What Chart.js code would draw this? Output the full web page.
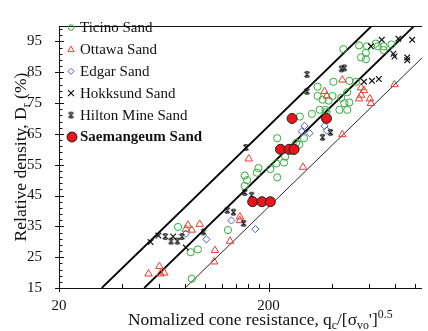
<!DOCTYPE html>
<html>
<head>
<meta charset="utf-8">
<script src="https://cdn.jsdelivr.net/npm/chart.js@4.4.0/dist/chart.umd.min.js"></script>
<style>
  html, body { margin: 0; padding: 0; background: #fff; }
</style>
</head>
<body>
<canvas id="chart" width="428" height="331"></canvas>
<script>
const FONT = '"Liberation Serif", "Times New Roman", serif';

// Ticino Sand
const ticinoQ  = [455, 541, 590, 650, 664, 708, 772, 708, 583, 553, 583,
                  343, 408, 486, 524, 475, 343, 362, 387, 404, 445, 460, 486, 436, 475, 351, 374, 379, 322, 282,
                  220, 295, 271, 280, 262, 240, 237, 218, 204, 179, 176, 154, 158, 154, 220, 128,
                  74, 85, 92, 86];
const ticinoDr = [92.5, 93.7, 93.4, 94.3, 93.4, 93.4, 94.0, 92.2, 91.3, 89.8, 89.2,
                  80.3, 81.9, 82.2, 81.9, 78.5, 77.3, 76.1, 75.8, 77.3, 76.7, 74.9, 75.2, 72.8, 72.8, 72.8, 72.8, 72.1, 71.5, 70.6,
                  63.6, 63.6, 62.1, 61.5, 59.4, 57.6, 55.7, 55.4, 53.6, 53.9, 52.4, 51.5, 50.0, 48.1, 50.9, 33.8,
                  34.8, 26.6, 27.5, 18.0];

// Ottawa Sand
const ottawaQ  = [450, 370, 379, 553, 571, 541, 553, 609, 616, 798, 450, 161, 292,
                  82.4, 80.6, 86, 93.8, 146, 146, 131, 111, 110, 53.5, 60.3, 61, 63.6];
const ottawaDr = [82.5, 78.8, 77.3, 80.0, 79.1, 76.4, 77.6, 76.4, 74.9, 81.0, 64.8, 56.9, 54.2,
                  35.4, 34.1, 33.8, 35.7, 38.1, 36.9, 30.2, 27.2, 23.5, 19.6, 22.0, 19.6, 19.9];

// Edgar Sand
const edgarQ  = [297, 288, 314, 370, 379, 80.6, 101, 133, 173];
const edgarDr = [67.6, 65.8, 65.2, 67.6, 66.1, 32.6, 30.8, 36.9, 34.1];

// Hokksund Sand
const hokksundQ  = [694, 833, 970, 616, 789, 798, 918, 918, 571, 623, 672, 54.7, 59.6, 80.6, 70.1];
const hokksundDr = [95.5, 95.9, 95.5, 93.4, 91.0, 90.1, 89.8, 88.9, 81.9, 82.2, 82.8, 29.9, 32.0, 28.1, 31.7];

// Hilton Mine Sand
const hiltonQ  = [445, 460, 305, 305, 156, 362, 395, 154, 166, 127, 136, 152, 98, 77.2, 64.3, 68.5, 73.4];
const hiltonDr = [86.1, 86.4, 84.3, 78.8, 60.6, 63.9, 65.5, 46.0, 45.1, 40.2, 39.6, 36.0, 33.2, 31.7, 31.7, 30.2, 30.2];

// Saemangeum Sand
const saemQ  = [259, 378, 228, 251, 265, 168, 186, 204];
const saemDr = [70, 70, 60, 60, 60, 43, 43, 43];

// boundary lines (end points)
const lineDr     = [15, 100];
const lineUpperQ = [32, 621];
const lineMidQ   = [51, 990];
const lineLowerQ = [80, 1550];

// ticks
const xLabelTicks = [20, 200];
const xMinorTicks = [40, 60, 80, 100, 120, 140, 160, 180, 400, 600, 800, 1000];
const yLabelTicks = [15, 25, 35, 45, 55, 65, 75, 85, 95];
const yMinorTicks = [17, 19, 21, 23, 27, 29, 31, 33, 37, 39, 41, 43, 47, 49, 51, 53, 57, 59, 61, 63,
                     67, 69, 71, 73, 77, 79, 81, 83, 87, 89, 91, 93, 97, 99];

const zip = (xs, ys) => xs.map((x, i) => ({ x: x, y: ys[i] }));

// x mark with short bars top and bottom
function hiltonMark(r) {
    const s = Math.ceil(r * 2 + 3);
    const c = document.createElement('canvas');
    c.width = s;
    c.height = s;
    const g = c.getContext('2d');
    const m = s / 2;
    g.strokeStyle = '#111';
    g.lineWidth = 1.1;
    g.beginPath();
    g.moveTo(m - r, m - r); g.lineTo(m + r, m + r);
    g.moveTo(m + r, m - r); g.lineTo(m - r, m + r);
    g.moveTo(m - r * 0.6, m - r); g.lineTo(m + r * 0.6, m - r);
    g.moveTo(m - r * 0.6, m + r); g.lineTo(m + r * 0.6, m + r);
    g.stroke();
    return c;
}
const hiltonImg = hiltonMark(2.6);

const GREEN = '#2fae3a';
const RED = '#f03a2e';
const BLUE = '#4a5fc8';

const legendItems = [
    { text: 'Ticino Sand', style: 'circle', color: GREEN },
    { text: 'Ottawa Sand', style: 'triangle', color: RED },
    { text: 'Edgar Sand', style: 'diamond', color: BLUE },
    { text: 'Hokksund Sand', style: 'cross', color: '#111' },
    { text: 'Hilton Mine Sand', style: 'hilton', color: '#111' },
    { text: 'Saemangeum Sand', style: 'filled', color: '#e8151b', bold: true }
];

function drawMarker(ctx, style, color, x, y) {
    ctx.save();
    ctx.strokeStyle = color;
    ctx.lineWidth = 1;
    ctx.beginPath();
    if (style === 'circle') {
        ctx.arc(x, y, 2.8, 0, Math.PI * 2);
        ctx.stroke();
    } else if (style === 'triangle') {
        ctx.moveTo(x, y - 3.3);
        ctx.lineTo(x + 3.2, y + 2.3);
        ctx.lineTo(x - 3.2, y + 2.3);
        ctx.closePath();
        ctx.stroke();
    } else if (style === 'diamond') {
        ctx.moveTo(x, y - 3);
        ctx.lineTo(x + 3, y);
        ctx.lineTo(x, y + 3);
        ctx.lineTo(x - 3, y);
        ctx.closePath();
        ctx.stroke();
    } else if (style === 'cross') {
        ctx.lineWidth = 1.2;
        ctx.moveTo(x - 3, y - 3); ctx.lineTo(x + 3, y + 3);
        ctx.moveTo(x + 3, y - 3); ctx.lineTo(x - 3, y + 3);
        ctx.stroke();
    } else if (style === 'hilton') {
        ctx.drawImage(hiltonImg, x - hiltonImg.width / 2, y - hiltonImg.height / 2);
    } else if (style === 'filled') {
        ctx.arc(x, y, 5, 0, Math.PI * 2);
        ctx.fillStyle = color;
        ctx.fill();
        ctx.strokeStyle = '#222';
        ctx.stroke();
    }
    ctx.restore();
}

function drawRich(ctx, parts, x, y, size) {
    let cx = x;
    for (const [t, mode] of parts) {
        const fs = mode ? size * 0.68 : size;
        ctx.font = fs + 'px ' + FONT;
        const dy = mode === 'sub' ? size * 0.25 : mode === 'sup' ? -size * 0.4 : 0;
        ctx.fillText(t, cx, y + dy);
        cx += ctx.measureText(t).width;
    }
    return cx - x;
}

function richWidth(ctx, parts, size) {
    let w = 0;
    for (const [t, mode] of parts) {
        ctx.font = (mode ? size * 0.68 : size) + 'px ' + FONT;
        w += ctx.measureText(t).width;
    }
    return w;
}

const framePlugin = {
    id: 'frame',
    afterDraw(chart) {
        const ctx = chart.ctx;
        const a = chart.chartArea;
        const xs = chart.scales.x;
        const ys = chart.scales.y;
        ctx.save();
        ctx.strokeStyle = '#111';
        ctx.lineWidth = 1;
        ctx.beginPath();
        // frame: left, bottom, top
        ctx.moveTo(a.left + 0.5, a.top);
        ctx.lineTo(a.left + 0.5, a.bottom + 0.5);
        ctx.lineTo(a.right, a.bottom + 0.5);
        ctx.moveTo(a.left, a.top + 0.5);
        ctx.lineTo(a.right, a.top + 0.5);
        // y ticks
        yLabelTicks.forEach(v => {
            const p = Math.round(ys.getPixelForValue(v)) + 0.5;
            ctx.moveTo(a.left - 4, p); ctx.lineTo(a.left + 5, p);
        });
        yMinorTicks.forEach(v => {
            const p = Math.round(ys.getPixelForValue(v)) + 0.5;
            ctx.moveTo(a.left, p); ctx.lineTo(a.left + 3.5, p);
        });
        // x ticks
        xLabelTicks.forEach(v => {
            const p = Math.round(xs.getPixelForValue(v)) + 0.5;
            ctx.moveTo(p, a.bottom + 4); ctx.lineTo(p, a.bottom - 5);
        });
        xMinorTicks.forEach(v => {
            const p = Math.round(xs.getPixelForValue(v)) + 0.5;
            ctx.moveTo(p, a.bottom); ctx.lineTo(p, a.bottom - 4);
        });
        ctx.stroke();

        // legend
        ctx.textBaseline = 'middle';
        ctx.textAlign = 'left';
        legendItems.forEach((it, i) => {
            const y = 27.5 + i * 21.9;
            drawMarker(ctx, it.style, it.color, it.bold ? 72 : 71, y);
            ctx.fillStyle = '#111';
            ctx.font = (it.bold ? 'bold ' : '') + '15px ' + FONT;
            ctx.fillText(it.text, 80, y + 0.5);
        });

        // axis titles
        ctx.fillStyle = '#111';
        ctx.textBaseline = 'alphabetic';
        const xTitle = [['Nomalized cone resistance, q', ''], ['c', 'sub'], ['/[\u03c3', ''], ['vo', 'sub'], ["']", ''], ['0.5', 'sup']];
        drawRich(ctx, xTitle, 128, 325, 17.4);

        const yTitle = [['Relative density, D', ''], ['r', 'sub'], [' (%)', '']];
        const w = richWidth(ctx, yTitle, 17.6);
        ctx.translate(26, 157);
        ctx.rotate(-Math.PI / 2);
        drawRich(ctx, yTitle, -w / 2, 0, 17.6);
        ctx.restore();
    }
};

const pointBase = { showLine: false, pointBorderWidth: 1, pointHoverRadius: 0 };

new Chart(document.getElementById('chart'), {
    type: 'scatter',
    data: {
        datasets: [
            Object.assign({}, pointBase, {
                label: 'Saemangeum Sand', data: zip(saemQ, saemDr),
                pointStyle: 'circle', pointRadius: 5, backgroundColor: '#e8151b', borderColor: '#222'
            }),
            Object.assign({}, pointBase, {
                label: 'Hilton Mine Sand', data: zip(hiltonQ, hiltonDr),
                pointStyle: hiltonImg, pointRadius: 3
            }),
            Object.assign({}, pointBase, {
                label: 'Hokksund Sand', data: zip(hokksundQ, hokksundDr),
                pointStyle: 'crossRot', pointRadius: 4, borderColor: '#111', pointBorderWidth: 1.2
            }),
            Object.assign({}, pointBase, {
                label: 'Edgar Sand', data: zip(edgarQ, edgarDr),
                pointStyle: 'rectRot', pointRadius: 3.6, borderColor: BLUE, backgroundColor: 'rgba(0,0,0,0)'
            }),
            Object.assign({}, pointBase, {
                label: 'Ottawa Sand', data: zip(ottawaQ, ottawaDr),
                pointStyle: 'triangle', pointRadius: 4.3, borderColor: RED, backgroundColor: 'rgba(0,0,0,0)'
            }),
            Object.assign({}, pointBase, {
                label: 'Ticino Sand', data: zip(ticinoQ, ticinoDr),
                pointStyle: 'circle', pointRadius: 3.6, borderColor: GREEN, backgroundColor: 'rgba(0,0,0,0)'
            }),
            {
                label: 'upper', data: zip(lineUpperQ, lineDr), showLine: true,
                borderColor: '#000', borderWidth: 1.8, pointRadius: 0
            },
            {
                label: 'middle', data: zip(lineMidQ, lineDr), showLine: true,
                borderColor: '#000', borderWidth: 1.8, pointRadius: 0
            },
            {
                label: 'lower', data: zip(lineLowerQ, lineDr), showLine: true,
                borderColor: '#111', borderWidth: 0.9, pointRadius: 0
            }
        ]
    },
    options: {
        responsive: false,
        animation: false,
        devicePixelRatio: 1,
        layout: { padding: { top: 8, right: 0, bottom: 0, left: 0 } },
        plugins: {
            legend: { display: false },
            tooltip: { enabled: false }
        },
        scales: {
            x: {
                type: 'logarithmic',
                min: 20,
                max: 1080,
                grid: { display: false, drawTicks: false },
                border: { display: false },
                afterBuildTicks: (scale) => { scale.ticks = xLabelTicks.map(v => ({ value: v })); },
                afterFit: (scale) => { scale.height = 43; },
                ticks: {
                    autoSkip: false,
                    maxRotation: 0,
                    padding: 9,
                    color: '#111',
                    font: { family: FONT, size: 15 },
                    callback: (v) => String(v)
                }
            },
            y: {
                min: 15,
                max: 100,
                grid: { display: false, drawTicks: false },
                border: { display: false },
                afterBuildTicks: (scale) => { scale.ticks = yLabelTicks.map(v => ({ value: v })); },
                afterFit: (scale) => { scale.width = 59; },
                ticks: {
                    padding: 17,
                    color: '#111',
                    font: { family: FONT, size: 15 },
                    callback: (v) => String(v)
                }
            }
        }
    },
    plugins: [framePlugin]
});
</script>
</body>
</html>
